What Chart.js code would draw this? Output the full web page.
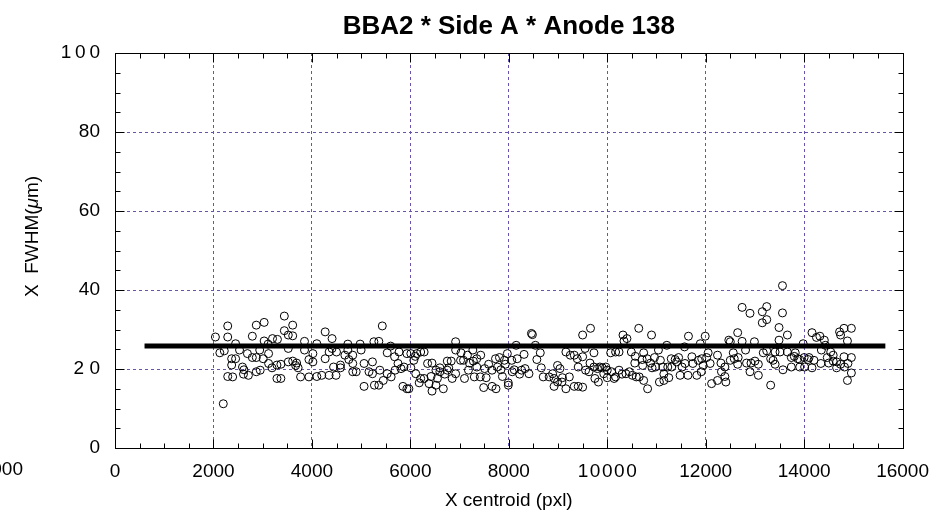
<!DOCTYPE html>
<html>
<head>
<meta charset="utf-8">
<script src="https://cdn.jsdelivr.net/npm/chart.js@4/dist/chart.umd.min.js"></script>
<style>
  html, body { margin: 0; padding: 0; background: #fff; }
  #wrap { width: 941px; height: 516px; }
</style>
</head>
<body>
<div id="wrap"><canvas id="c" width="941" height="516"></canvas></div>
<script>
// X centroid (pxl) of each measured spot
const centroidX = [
  2040,2200,2290,2290,2130,2220,2370,2450,2450,2530,2370,2290,2390,2590,2620,2610,2710,2690,2790,2870,
  2790,2870,2950,2870,2940,3030,3030,3110,3120,3010,3120,3190,3200,3300,3290,3370,3290,3370,3440,3440,
  3520,3610,3610,3520,3610,3690,3520,3720,3670,3770,3850,3850,3940,3940,4020,4100,4020,4100,4200,4270,
  4270,4350,4350,4410,4410,4440,4500,4490,4580,4580,4670,4730,4730,4750,4830,4830,4830,4900,4980,5000,
  5060,5060,5160,5230,5260,5270,5230,
  5430,5360,5380,5360,5450,5530,5530,5600,5610,5680,5690,5750,5770,5810,5850,5870,5930,5970,5930,6010,
  6010,6070,6100,6130,6110,6180,6210,6280,6210,6280,6350,6380,6420,6440,6440,6520,6520,6550,6600,6600,
  6670,6700,6750,6750,6780,6830,6850,6920,6920,6920,7020,7030,7080,7100,7160,7180,7200,7270,7280,7300,
  7350,7350,7430,7420,7490,7510,7540,7590,7660,7660,7730,7740,7770,7810,7840,7870,7910,7930,7970,7990,
  7990,8060,8070,8110,8150,8170,8220,8260,8310,8330,8410,8460,8480,8540,8570,8640,8660,8700,
  8820,8890,8920,8920,8990,8990,9040,9080,9090,9160,9160,9230,9250,9330,9330,9390,9410,9410,9500,9500,
  9500,9550,9560,9630,9650,9660,9730,9730,9750,9800,9820,9850,9900,9930,9970,10000,10000,10070,10090,10140,
  10170,10170,10240,10240,10300,10320,10340,10400,10380,10450,10490,10510,10560,10570,10590,10640,10650,10710,10720,10740,
  10740,10810,10820,10880,10900,10910,10960,10980,11040,11080,11060,11130,11150,11150,11210,11230,11250,11300,11310,11380,
  11410,11450,11480,11520,11570,11580,11640,11650,11720,11740,11820,11850,11890,11920,11910,11950,11990,12020,12050,12090,
  12120,
  12240,12240,12310,12320,12390,12390,12410,12470,12500,12500,12560,12580,12650,12650,12660,12740,12740,12810,12830,12900,
  12900,12920,12990,13000,13070,13070,13150,13150,13170,13240,13240,13240,13320,13320,13370,13410,13410,13490,13490,13510,
  13560,13560,13570,13660,13660,13740,13740,13800,13820,13870,13910,13910,13980,14000,14010,14080,14100,14160,14160,14200,
  14250,14320,14340,14350,14410,14430,14470,14500,14540,14590,14590,14660,14660,14720,14740,14740,14810,14810,14820,14880,
  14880,14890,14960,14960,14960
];

// X FWHM (µm) of each measured spot
const fwhmX = [
  28.1,11.2,30.9,28.1,24.1,24.6,22.6,22.6,26.4,24.8,21.0,18.1,18.0,20.5,19.8,18.7,18.4,23.9,28.3,31.1,
  22.9,22.9,19.7,19.3,24.8,31.8,27.1,26.3,23.9,22.6,21.4,20.3,27.7,27.5,17.6,17.6,21.0,21.2,33.4,29.7,
  28.6,31.1,28.4,25.2,22.0,21.5,21.8,20.3,20.9,18.0,27.0,24.8,18.0,22.4,23.9,26.4,21.8,18.1,18.4,29.4,
  22.6,24.3,18.4,27.7,25.2,20.5,24.3,18.4,21.0,20.3,23.5,26.3,24.8,22.4,23.5,21.4,19.3,19.3,26.3,24.8,
  15.6,21.4,19.3,21.8,26.9,15.9,18.8,
  30.9,27.0,19.7,15.9,17.1,24.1,18.8,25.8,18.0,23.1,19.7,21.4,24.3,20.1,15.6,20.5,15.0,15.0,23.9,23.9,
  20.3,22.2,23.2,23.9,18.8,16.5,24.3,24.3,17.6,17.6,21.4,16.3,18.1,21.5,14.4,15.9,19.7,17.6,19.3,20.3,
  15.0,18.7,19.7,22.0,20.3,22.0,17.6,26.9,24.8,18.8,22.2,24.1,22.2,17.6,23.5,19.7,21.5,24.8,22.0,18.0,
  20.5,22.6,23.5,18.0,15.3,20.1,17.8,21.2,15.6,19.7,22.6,15.0,20.5,22.9,19.8,18.1,22.2,21.2,23.9,16.5,
  15.9,22.2,19.3,19.8,26.0,22.6,18.7,19.7,23.7,20.1,18.8,29.0,28.7,26.0,22.4,24.1,20.3,18.0,
  18.0,18.8,17.6,15.6,16.7,20.9,20.1,16.7,17.8,24.3,15.0,18.0,23.5,23.5,15.6,22.6,20.5,15.6,28.6,23.1,
  15.4,25.2,19.7,19.3,21.5,30.3,24.1,20.5,17.6,20.1,16.7,20.5,20.3,18.8,20.5,19.7,17.8,24.1,19.3,17.6,
  24.3,18.0,24.3,19.7,18.7,28.6,27.1,27.7,18.8,19.3,24.3,18.4,21.5,23.2,18.0,30.3,18.0,22.4,20.9,24.1,
  17.1,22.6,15.0,21.5,28.6,20.3,22.9,20.5,24.8,22.2,16.7,20.5,17.1,18.7,26.0,20.5,17.8,22.6,20.5,22.4,
  21.8,22.9,18.4,20.5,25.6,21.4,18.4,28.3,23.1,21.4,18.4,22.2,26.4,22.6,19.3,20.9,28.3,22.9,24.1,21.4,
  16.3,
  23.5,17.1,21.5,19.3,20.5,18.1,16.7,27.3,26.9,22.2,24.1,22.6,29.2,21.2,22.9,35.6,27.0,24.8,21.5,34.1,
  19.3,21.5,26.9,22.0,21.2,18.4,34.5,31.7,24.1,35.8,32.5,24.6,22.6,15.9,22.2,21.2,24.3,30.5,27.3,24.3,
  41.1,34.2,19.8,28.6,24.3,22.9,20.5,23.2,24.1,22.6,22.4,20.5,26.4,22.9,20.5,22.4,22.9,29.2,20.3,22.2,
  28.0,28.3,21.4,24.8,27.3,26.0,22.9,21.5,24.3,23.5,22.0,20.3,21.8,29.4,28.6,21.2,30.3,23.1,20.5,27.1,
  17.1,21.4,30.3,22.9,19.0
];

// Mean level drawn across the detector
const meanX = [600, 15650];
const meanY = [25.8, 25.8];

// Axis ticks and their printed labels
const xTicks = [0, 2000, 4000, 6000, 8000, 10000, 12000, 14000, 16000];
const xTickLabels = ['0', '2000', '4000', '6000', '8000', '1\u200a0\u200a0\u200a0\u200a0', '12000', '14000', '16000'];
const yTicks = [0, 20, 40, 60, 80, 100];
const yTickLabels = ['0', '2 0', '40', '60', '80', '1\u20090\u20090'];

const TITLE = 'BBA2 * Side A * Anode 138';
const FONT = '"Liberation Sans", Arial, Helvetica, sans-serif';
const GRID = '#6a52ad';

// Title, frame, inward ticks, rotated y title with italic mu
const framePlugin = {
  id: 'frame',
  afterDraw(chart) {
    const { ctx, chartArea: a, scales: { x, y } } = chart;
    ctx.save();
    ctx.strokeStyle = '#000';
    ctx.lineWidth = 1;
    const L = Math.round(a.left) + 0.5, R = Math.round(a.right) + 0.5;
    const T = Math.round(a.top) + 0.5, B = Math.round(a.bottom) + 0.5;
    ctx.strokeRect(L, T, R - L, B - T);
    ctx.beginPath();
    for (let v = 0; v <= 16000; v += 500) {
      const px = Math.round(x.getPixelForValue(v)) + 0.5;
      const len = v % 2000 === 0 ? 9 : 5;
      ctx.moveTo(px, B); ctx.lineTo(px, B - len);
      ctx.moveTo(px, T); ctx.lineTo(px, T + len);
    }
    for (let v = 0; v <= 100; v += 5) {
      const py = Math.round(y.getPixelForValue(v)) + 0.5;
      const len = v % 20 === 0 ? 9 : 5;
      ctx.moveTo(L, py); ctx.lineTo(L + len, py);
      ctx.moveTo(R, py); ctx.lineTo(R - len, py);
    }
    ctx.stroke();

    // chart title centred over the plot
    ctx.fillStyle = '#000';
    ctx.textBaseline = 'middle';
    ctx.textAlign = 'center';
    ctx.font = 'bold 26px ' + FONT;
    ctx.fillText(TITLE, (a.left + a.right) / 2, 27);

    // y axis title
    const parts = [['X  FWHM(', ''], ['\u03bc', 'italic '], ['m)', '']];
    ctx.textAlign = 'left';
    let total = 0;
    parts.forEach(p => { ctx.font = p[1] + '19px ' + FONT; total += ctx.measureText(p[0]).width; });
    ctx.translate(33, (a.top + a.bottom) / 2 - 14);
    ctx.rotate(-Math.PI / 2);
    let cx = -total / 2;
    parts.forEach(p => { ctx.font = p[1] + '19px ' + FONT; ctx.fillText(p[0], cx, 0); cx += ctx.measureText(p[0]).width; });
    ctx.setTransform(1, 0, 0, 1, 0, 0);

    // clipped label from a neighbouring panel
    ctx.font = '19px ' + FONT;
    ctx.textAlign = 'right';
    ctx.fillText('000', 23, 470);
    ctx.restore();
  }
};

const edgeless = (lo, hi) => (c) => (c.tick && (c.tick.value === lo || c.tick.value === hi)) ? 'rgba(0,0,0,0)' : GRID;

new Chart(document.getElementById('c'), {
  type: 'scatter',
  data: {
    datasets: [
      {
        type: 'line',
        data: meanX.map((v, i) => ({ x: v, y: meanY[i] })),
        borderColor: '#000',
        borderWidth: 5,
        borderCapStyle: 'butt',
        pointRadius: 0,
        fill: false,
        order: 0
      },
      {
        data: centroidX.map((v, i) => ({ x: v, y: fwhmX[i] })),
        pointStyle: 'circle',
        pointRadius: 4,
        pointHoverRadius: 4,
        borderColor: '#000',
        backgroundColor: 'rgba(0,0,0,0)',
        borderWidth: 1,
        order: 1
      }
    ]
  },
  options: {
    responsive: false,
    animation: false,
    devicePixelRatio: 1,
    layout: { padding: { left: 0, right: 32, top: 53, bottom: 0 } },
    plugins: {
      legend: { display: false },
      tooltip: { enabled: false },
      title: { display: false }
    },
    scales: {
      x: {
        type: 'linear',
        min: xTicks[0],
        max: xTicks[xTicks.length - 1],
        afterFit(s) { s.height = 68; },
        ticks: {
          stepSize: 2000,
          autoSkip: false,
          maxRotation: 0,
          padding: 12,
          color: '#000',
          font: { family: FONT, size: 19 },
          callback: (v) => xTickLabels[xTicks.indexOf(v)]
        },
        grid: { color: edgeless(0, 16000), lineWidth: 1, drawTicks: false },
        border: { display: false, dash: [3, 3] },
        title: {
          display: true,
          text: 'X centroid (pxl)',
          color: '#000',
          font: { family: FONT, size: 19 },
          padding: { top: 0, bottom: 4 }
        }
      },
      y: {
        type: 'linear',
        min: yTicks[0],
        max: yTicks[yTicks.length - 1],
        afterFit(s) { s.width = 115; },
        ticks: {
          stepSize: 20,
          padding: 15,
          color: '#000',
          font: { family: FONT, size: 19 },
          callback: (v) => yTickLabels[yTicks.indexOf(v)]
        },
        grid: { color: edgeless(0, 100), lineWidth: 1, drawTicks: false },
        border: { display: false, dash: [3, 3] }
      }
    }
  },
  plugins: [framePlugin]
});
</script>
</body>
</html>
